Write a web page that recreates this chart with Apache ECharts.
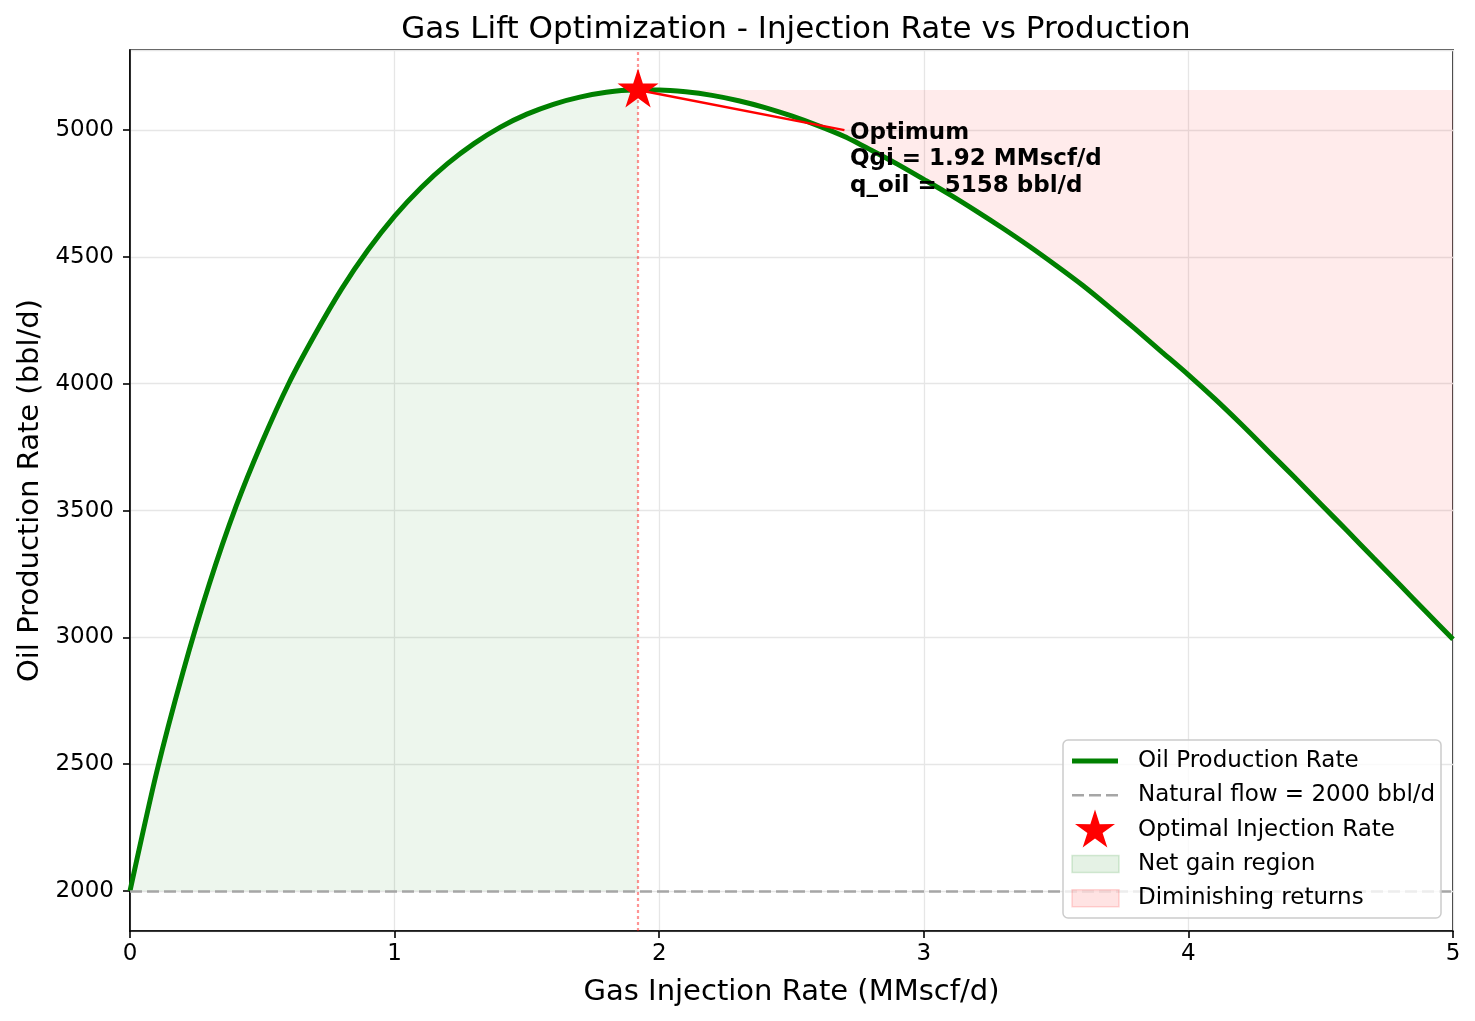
<!DOCTYPE html>
<html>
<head>
<meta charset="utf-8">
<script src="https://cdn.jsdelivr.net/npm/echarts@6/dist/echarts.min.js"></script>
<style>
  html, body { margin: 0; padding: 0; background: #fff; }
  #chart { width: 1475px; height: 1021px; }
</style>
</head>
<body>
<div id="chart"></div>
<script>
// values
const qgi = [
  0, 0.1, 0.2, 0.3, 0.4, 0.5, 0.6, 0.7, 0.8, 0.9,
  1.0, 1.1, 1.2, 1.3, 1.4, 1.5, 1.6, 1.7, 1.8, 1.9,
  2.0, 2.1, 2.2, 2.3, 2.4, 2.5, 2.6, 2.7, 2.8, 2.9,
  3.0, 3.1, 3.2, 3.3, 3.4, 3.5, 3.6, 3.7, 3.8, 3.9,
  4.0, 4.1, 4.2, 4.3, 4.4, 4.5, 4.6, 4.7, 4.8, 4.9, 5.0
];
const qOil = [
  2000, 2465, 2862, 3211, 3514, 3772, 4001, 4196, 4374, 4528,
  4661, 4773, 4868, 4947, 5012, 5063, 5102, 5130, 5149, 5158,
  5158, 5151, 5137, 5116, 5089, 5056, 5018, 4975, 4922, 4866,
  4806, 4745, 4680, 4612, 4541, 4466, 4388, 4303, 4215, 4125,
  4035, 3940, 3840, 3736, 3632, 3526, 3420, 3313, 3206, 3099, 2992
];
const naturalFlow = 2000;
const optimum = [1.92, 5158];
const annotationEnd = [2.7, 5000];
const annotationLines = ['Optimum', 'Qgi = 1.92 MMscf/d', 'q_oil = 5158 bbl/d'];
const legendLabels = [
  'Oil Production Rate',
  'Natural flow = 2000 bbl/d',
  'Optimal Injection Rate',
  'Net gain region',
  'Diminishing returns'
];

const FONT = 'DejaVu Sans';

function starPoints(cx, cy, R, r) {
  const pts = [];
  for (let k = 0; k < 10; k++) {
    const ang = (-90 + k * 36) * Math.PI / 180;
    const rad = k % 2 === 0 ? R : r;
    pts.push([cx + rad * Math.cos(ang), cy + rad * Math.sin(ang)]);
  }
  return pts;
}
const STAR = 'path://M' + starPoints(0, 0, 100, 38.2)
  .map((p) => p[0].toFixed(2) + ',' + p[1].toFixed(2)).join(' L') + ' Z';

const chart = echarts.init(document.getElementById('chart'));

const curve = qgi.map((x, i) => [x, qOil[i]]);
const gainArea = curve.filter((p) => p[0] < optimum[0]).concat([optimum]);
const dimArea = [optimum].concat(curve.filter((p) => p[0] > optimum[0]));

// hand-built legend (matplotlib look)
const lgX = 1063, lgY = 740, rowH = 34.3, row0 = 761;
const legendEls = [{
  type: 'rect',
  shape: { x: lgX, y: lgY, width: 378, height: 178, r: 5 },
  style: { fill: 'rgba(255,255,255,0.8)', stroke: '#cccccc', lineWidth: 1.5 },
  z: 100
}];
legendLabels.forEach((label, i) => {
  const cy = row0 + i * rowH;
  legendEls.push({
    type: 'text', z: 101,
    style: { text: label, x: 1138, y: cy, fill: '#000', font: '23px "DejaVu Sans"',
      verticalAlign: 'middle', align: 'left' }
  });
});
legendEls.push(
  { type: 'line', z: 101, shape: { x1: 1072, y1: row0, x2: 1118, y2: row0 },
    style: { stroke: '#008000', lineWidth: 5 } },
  { type: 'line', z: 101, shape: { x1: 1072, y1: row0 + rowH, x2: 1118, y2: row0 + rowH },
    style: { stroke: '#a6a6a6', lineWidth: 2.5, lineDash: [12, 5] } },
  { type: 'polygon', z: 101, shape: { points: starPoints(1095, row0 + 2 * rowH + 1, 21, 8) },
    style: { fill: '#ff0000' } },
  { type: 'rect', z: 101, shape: { x: 1072, y: row0 + 3 * rowH - 8.5, width: 47, height: 17 },
    style: { fill: 'rgba(0,128,0,0.1)', stroke: 'rgba(0,128,0,0.15)', lineWidth: 1.5 } },
  { type: 'rect', z: 101, shape: { x: 1072, y: row0 + 4 * rowH - 8.5, width: 47, height: 17 },
    style: { fill: 'rgba(255,0,0,0.11)', stroke: 'rgba(255,0,0,0.15)', lineWidth: 1.5 } }
);

const axisCommon = {
  type: 'value',
  axisLine: { show: true, onZero: false, lineStyle: { color: '#000', width: 1.6 } },
  axisTick: { show: true, length: 7, lineStyle: { color: '#000', width: 1.6 } },
  axisLabel: { color: '#000', fontSize: 23, fontFamily: FONT, formatter: (v) => String(v) },
  splitLine: { show: true, lineStyle: { color: '#e6e6e6', width: 1.3 } },
  nameLocation: 'middle',
  nameTextStyle: { color: '#000', fontSize: 29, fontFamily: FONT }
};

chart.setOption({
  backgroundColor: '#fff',
  animation: false,
  title: {
    text: 'Gas Lift Optimization - Injection Rate vs Production',
    left: 791,
    top: 9,
    textAlign: 'center',
    textStyle: { color: '#000', fontSize: 31, fontWeight: 'normal', fontFamily: FONT }
  },
  grid: {
    left: 130, right: 22, top: 50, bottom: 90,
    show: true, borderColor: '#000', borderWidth: 1.6, backgroundColor: 'transparent'
  },
  xAxis: Object.assign({}, axisCommon, {
    min: 0, max: 5, interval: 1,
    name: 'Gas Injection Rate (MMscf/d)',
    nameGap: 47,
    axisLabel: Object.assign({}, axisCommon.axisLabel, { margin: 12 })
  }),
  yAxis: Object.assign({}, axisCommon, {
    min: 1842, max: 5316, splitNumber: 7,
    name: 'Oil Production Rate (bbl/d)',
    nameGap: 74,
    axisLabel: Object.assign({}, axisCommon.axisLabel, {
      margin: 16, showMinLabel: false, showMaxLabel: false
    })
  }),
  graphic: legendEls,
  series: [
    {
      name: 'Net gain region',
      type: 'line',
      data: gainArea,
      smooth: 0.25,
      symbol: 'none',
      lineStyle: { width: 0 },
      areaStyle: { color: 'rgba(0,128,0,0.1)', origin: naturalFlow },
      z: 1,
      silent: true,
      markLine: {
        silent: true,
        symbol: 'none',
        label: { show: false },
        data: [
          { xAxis: optimum[0], lineStyle: { color: 'rgba(255,0,0,0.42)', type: [3, 3], width: 2.2 } },
          { yAxis: naturalFlow, lineStyle: { color: '#a6a6a6', type: [12, 5], width: 2.5 } }
        ]
      }
    },
    {
      name: 'Diminishing returns',
      type: 'line',
      data: dimArea,
      smooth: 0.25,
      symbol: 'none',
      lineStyle: { width: 0 },
      areaStyle: { color: 'rgba(255,0,0,0.11)', origin: optimum[1] },
      z: 1,
      silent: true
    },
    {
      name: 'Oil Production Rate',
      type: 'line',
      data: curve,
      smooth: 0.25,
      symbol: 'none',
      lineStyle: { color: '#008000', width: 5 },
      z: 3
    },
    {
      name: 'annotation',
      type: 'line',
      data: [optimum, annotationEnd],
      symbol: 'none',
      lineStyle: { color: '#ff0000', width: 2.5 },
      z: 4,
      silent: true
    },
    {
      name: 'annotation text',
      type: 'scatter',
      data: [annotationEnd],
      symbolSize: 1,
      itemStyle: { color: 'transparent', opacity: 1 },
      label: {
        show: true,
        position: [6, -10],
        align: 'left',
        verticalAlign: 'top',
        formatter: annotationLines.join('\n'),
        color: '#000',
        opacity: 1,
        fontSize: 23,
        fontWeight: 'bold',
        fontFamily: FONT,
        lineHeight: 26.5
      },
      z: 4,
      silent: true
    },
    {
      name: 'Optimal Injection Rate',
      type: 'scatter',
      data: [optimum],
      symbol: STAR,
      symbolSize: [41, 39],
      symbolOffset: [0, -2],
      itemStyle: { color: '#ff0000', opacity: 1 },
      z: 5
    }
  ]
});
</script>
</body>
</html>
